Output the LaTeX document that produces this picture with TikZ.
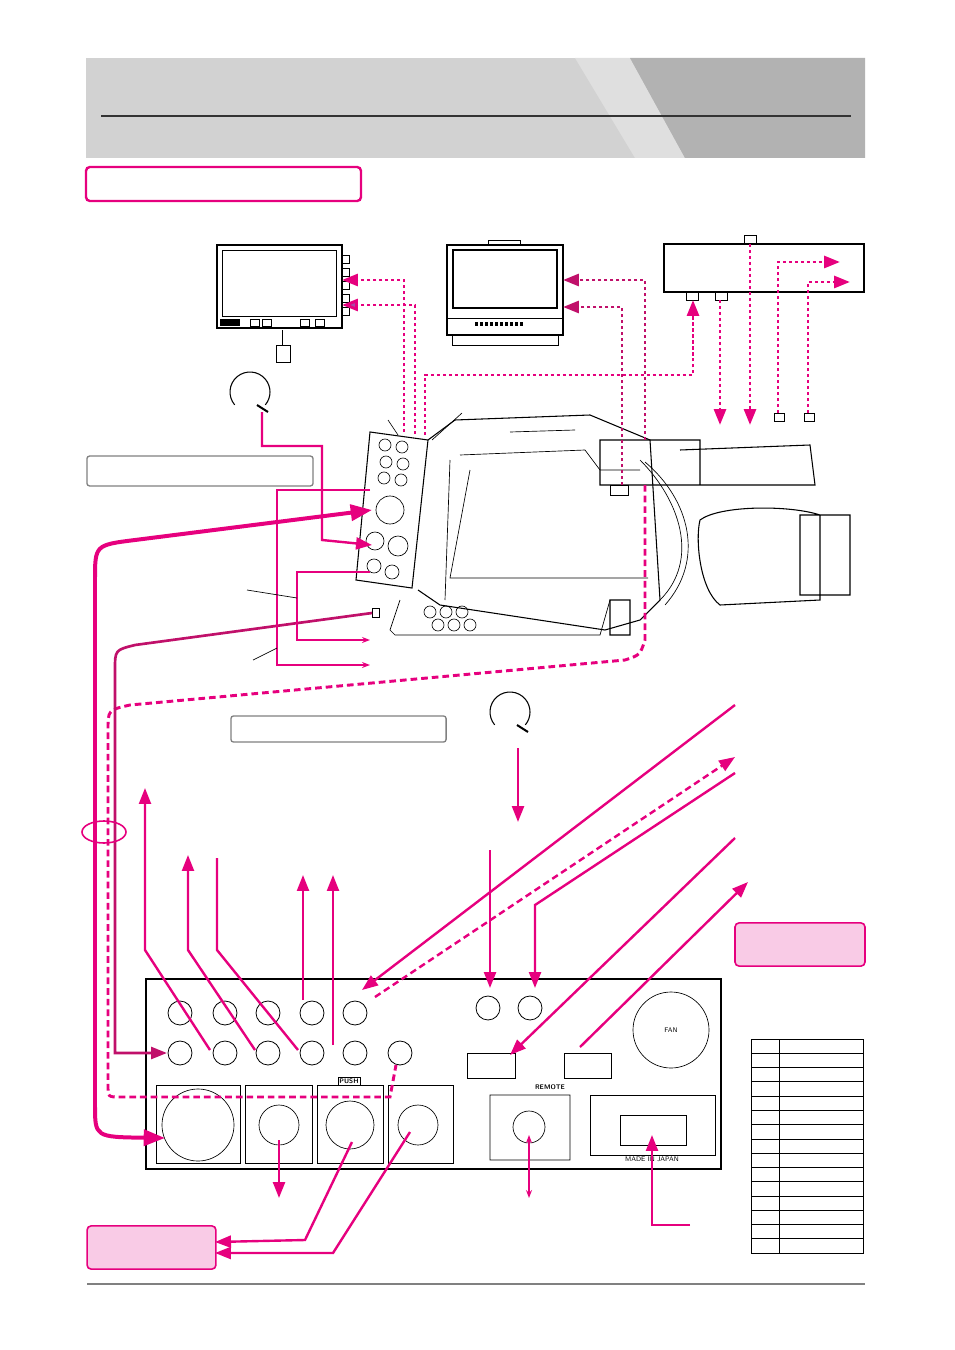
\documentclass[tikz,border=0pt]{standalone}
\usetikzlibrary{arrows.meta}
\definecolor{mg}{HTML}{E6007E}
\definecolor{dmg}{HTML}{C0106A}
\definecolor{pk}{HTML}{F9CBE6}
\begin{document}
\begin{tikzpicture}[x=0.0264cm,y=-0.0264cm,
 con/.style={mg,line width=1.8pt,-{Triangle[length=12pt,width=9pt]}},
 dot/.style={mg,line width=2.2pt,dash pattern=on 2.5pt off 2pt,-{Triangle[length=12pt,width=9pt]}},
 thn/.style={mg,line width=1pt,-{Stealth[length=6pt]}},
 ln/.style={black,line width=0.5pt},
 bnc/.style={circle,draw,line width=0.6pt,minimum size=18pt,inner sep=0pt},
 lbl/.style={font=\sffamily\tiny\bfseries}]
\useasboundingbox (0,0) rectangle (954,1350);
% header
\fill[gray!35] (86,58) rectangle (865,158);
\fill[gray!25] (575,58) -- (630,58) -- (685,158) -- (635,158) -- cycle;
\fill[gray!60] (630,58) -- (865,58) -- (865,158) -- (685,158) -- cycle;
\draw[line width=1pt,black!80] (101,116) -- (851,116);
\node[draw=mg,line width=1.8pt,rounded corners=3pt,minimum width=7.26cm,minimum height=0.9cm] (t1) at (223.5,184) {};
\node[draw=gray,line width=1pt,rounded corners=2pt,minimum width=5.97cm,minimum height=0.79cm] (t2) at (200,471) {};
\node[draw=gray,line width=1pt,rounded corners=2pt,minimum width=5.68cm,minimum height=0.69cm] (t3) at (338.5,729) {};
\node[draw=mg,fill=pk,line width=1.2pt,rounded corners=3pt,minimum width=3.43cm,minimum height=1.14cm] (t4) at (800,944.5) {};
\node[draw=mg,fill=pk,line width=1.2pt,rounded corners=3pt,minimum width=3.4cm,minimum height=1.14cm] (t5) at (151.5,1247.5) {};
\draw[gray,line width=1pt] (87,1284) -- (865,1284);
% table
\draw[ln,line width=0.7pt] (751,1039) rectangle (863,1253);
\foreach \i in {1,...,14}{\draw[ln] (751,1039+\i*14.27) -- (863,1039+\i*14.27);}
\draw[ln] (779,1039) -- (779,1253);
% monitors
\draw[ln,line width=0.8pt] (217,245) rectangle (342,328);
\draw[ln] (222,250) rectangle (336,316);
\fill (220,319) rectangle (240,326);
\foreach \x in {250,262,300,315}{\draw[ln] (\x,319) rectangle (\x+9,326);}
\foreach \y in {255,268,281,294,307}{\draw[ln] (342,\y) rectangle (349,\y+8);}
\draw[ln] (282,330) -- (282,345) (276,345) rectangle (290,362);
\draw[ln,line width=0.8pt] (447,245) rectangle (563,335);
\draw[ln,line width=1.2pt] (453,250) rectangle (557,308);
\draw[ln] (447,318) -- (563,318) (452,335) rectangle (558,345) (488,240) rectangle (520,245);
\foreach \x in {475,480,...,520}{\fill (\x,322) rectangle (\x+3,326);}
\draw[ln,line width=0.8pt] (664,244) rectangle (864,292);
\draw[ln] (744,235) rectangle (756,244) (686,292) rectangle (698,300) (715,292) rectangle (727,300)
 (774,413) rectangle (784,421) (804,413) rectangle (814,421);
% camera
\draw[ln,line width=0.8pt] (370,432) -- (428,440) -- (412,588) -- (356,580) -- cycle;
\foreach \p in {(385,445),(402,447),(386,462),(403,464),(384,478),(401,480)}{\draw[ln] \p circle (6);}
\draw[ln] (390,510) circle (14) (375,541) circle (9) (398,546) circle (10) (374,566) circle (7) (392,572) circle (7);
\draw[ln,line width=0.8pt] (428,440) -- (455,420) -- (590,415) -- (650,440) -- (660,600) -- (640,620) -- (605,630) -- (440,605) -- (418,590);
\draw[ln] (460,455) -- (585,450) -- (600,470) -- (640,470) (450,460) -- (445,600) (470,470) -- (450,578) -- (648,578)
 (510,432) -- (575,430) (400,600) -- (390,630) -- (395,635) -- (600,635) -- (610,600);
\foreach \x in {430,446,462}{\draw[ln] (\x,612) circle (6) (\x+8,625) circle (6);}
\draw[ln,line width=0.8pt] (600,440) rectangle (700,485) (680,450) -- (810,445) -- (815,485) -- (700,485)
 (700,520) .. controls (720,505) and (790,505) .. (820,515) -- (820,600) -- (720,605) .. controls (700,590) and (695,540) .. (700,520)
 (800,515) rectangle (850,595) (610,600) rectangle (630,635);
\draw[ln] (640,460) .. controls (680,500) and (700,560) .. (660,600) (645,462) .. controls (690,500) and (705,560) .. (665,605);
\draw[ln] (610,485) rectangle (628,495) (372,608) rectangle (379,617);
% rear panel
\draw[ln,line width=0.8pt] (146,979) rectangle (721,1169);
\foreach \x in {180,225,268,312,355}{\node[bnc] at (\x,1013){}; \node[bnc] at (\x,1053){};}
\node[bnc] at (400,1053){}; \node[bnc] at (488,1008){}; \node[bnc] at (530,1008){};
\draw[ln] (467,1053) rectangle (515,1078) (564,1053) rectangle (611,1078);
\draw[ln] (671,1030) circle (38); \node[font=\sffamily\fontsize{5}{5}\selectfont] (fan) at (671,1030) {FAN};
\draw[ln] (156,1085) rectangle (240,1163) (245,1085) rectangle (312,1163) (317,1085) rectangle (383,1163) (388,1085) rectangle (453,1163);
\draw[ln] (198,1125) circle (36) (279,1125) circle (20) (350,1125) circle (24) (418,1125) circle (20);
\node[lbl,draw,inner sep=1pt] (push) at (349,1081) {PUSH};
\draw[ln] (490,1095) rectangle (570,1160) (529,1127) circle (16);
\node[lbl] (rem) at (550,1087) {REMOTE};
\draw[ln] (590,1095) rectangle (715,1155) (620,1115) rectangle (686,1145);
\node[font=\sffamily\fontsize{5}{5}\selectfont] (mij) at (652,1159) {MADE IN JAPAN};
% connectors top
\draw[dot] (404,432) -- (404,280) -- (342,280);
\draw[dot,-{Triangle[length=12pt,width=9pt,fill=violet!70]}] (415,434) -- (415,305) -- (342,305);
\draw[dot] (425,435) -- (425,375) -- (693,375) -- (693,300);
\draw[dot] (720,300) -- (720,425);
\draw[dot] (750,244) -- (750,425);
\draw[dot] (778,413) -- (778,262) -- (840,262);
\draw[dot] (808,413) -- (808,282) -- (850,282);
\draw[dot,dmg] (645,440) -- (645,280) -- (563,280);
\draw[dot,dmg] (622,485) -- (622,307) -- (563,307);
\draw[mg,line width=2.2pt,dash pattern=on 5pt off 3pt] (645,485) -- (645,640) .. controls (640,655) .. (625,660) -- (130,705) .. controls (108,710) .. (108,730) -- (108,1085) .. controls (108,1097) .. (120,1097) -- (390,1097) -- (396,1065);
% headsets
\draw[ln,line width=0.8pt] ([shift={(140:20)}]250,392) arc (140:400:20);
\draw[ln,line width=1.5pt] (257,405) -- (268,412);
\draw[con] (262,412) -- (262,446) -- (322,446) -- (322,540) -- (372,545);
\draw[ln,line width=0.8pt] ([shift={(140:20)}]510,712) arc (140:400:20);
\draw[ln,line width=1.5pt] (517,725) -- (528,732);
\draw[con] (518,748) -- (518,822);
% thick
\draw[mg,line width=3pt,-{Triangle[length=16pt,width=12pt]}] (95,1110) -- (95,580) .. controls (95,545) .. (135,540) -- (372,510);
\draw[mg,line width=3pt,-{Triangle[length=16pt,width=12pt]}] (95,1105) .. controls (95,1137) .. (165,1138);
\draw[dmg,line width=2pt,-{Triangle[length=12pt,width=9pt]}] (372,613) -- (135,645) .. controls (115,650) .. (115,670) -- (115,1053) -- (167,1053);
\draw[thn] (370,572) -- (297,572) -- (297,640) -- (370,640);
\draw[thn] (370,490) -- (277,490) -- (277,665) -- (370,665);
\draw[ln] (247,590) -- (297,598) (253,660) -- (277,648) (388,420) -- (398,435) (462,413) -- (432,440);
\draw[mg,line width=1.2pt] (104,832) ellipse (22 and 11);
% rear connectors
\draw[con] (210,1050) -- (145,950) -- (145,788);
\draw[con] (255,1050) -- (188,950) -- (188,855);
\draw[mg,line width=1.8pt] (298,1050) -- (217,950) -- (217,858);
\draw[con] (303,1000) -- (303,875);
\draw[con] (333,1045) -- (333,875);
\draw[con] (735,705) -- (362,990);
\draw[dot,dash pattern=on 5pt off 3pt,line width=1.8pt] (375,997) -- (735,757);
\draw[con] (735,773) -- (535,905) -- (535,988);
\draw[con] (735,838) -- (510,1055);
\draw[con] (580,1047) -- (748,882);
\draw[con] (490,850) -- (490,988);
\draw[con] (279,1140) -- (279,1198);
\draw[con] (352,1142) -- (305,1240) -- (215,1242);
\draw[con] (410,1132) -- (333,1253) -- (215,1253);
\draw[mg,line width=1.2pt,{Stealth[length=6pt]}-{Stealth[length=6pt]}] (529,1135) -- (529,1198);
\draw[con] (690,1225) -- (652,1225) -- (652,1135);
\end{tikzpicture}
\end{document}
